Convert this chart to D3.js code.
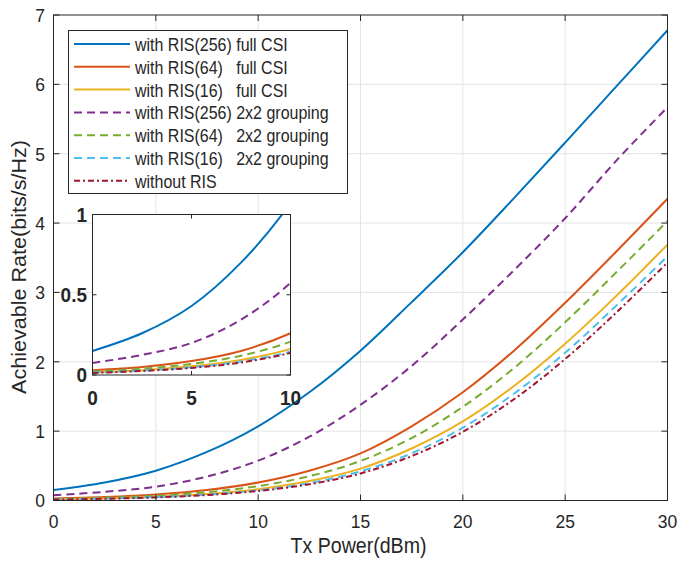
<!DOCTYPE html>
<html>
<head>
<meta charset="utf-8">
<script src="https://cdn.jsdelivr.net/npm/d3@7"></script>
<style>
  body { margin: 0; background: #fff; }
  text { font-family: "Liberation Sans", Arial, Helvetica, sans-serif; fill: #262626; }
</style>
</head>
<body>
<svg id="chart" width="685" height="567"></svg>
<script>
// Tx power samples (dBm)
var txPower = [0, 2.5, 5, 7.5, 10, 12.5, 15, 17.5, 20, 22.5, 25, 27.5, 30];

// achievable rate (bits/s/Hz)
var ris256Full  = [0.15, 0.26, 0.43, 0.70, 1.07, 1.56, 2.16, 2.86, 3.58, 4.36, 5.16, 5.97, 6.78];
var ris64Full   = [0.03, 0.05, 0.087, 0.15, 0.26, 0.43, 0.68, 1.07, 1.56, 2.16, 2.85, 3.59, 4.35];
var ris16Full   = [0.017, 0.030, 0.054, 0.094, 0.163, 0.28, 0.46, 0.75, 1.14, 1.65, 2.26, 2.95, 3.69];
var ris256Group = [0.075, 0.125, 0.20, 0.345, 0.575, 0.92, 1.38, 1.94, 2.61, 3.32, 4.07, 4.90, 5.67];
var ris64Group  = [0.022, 0.039, 0.069, 0.12, 0.208, 0.35, 0.57, 0.90, 1.35, 1.91, 2.57, 3.29, 4.03];
var ris16Group  = [0.015, 0.027, 0.048, 0.084, 0.146, 0.25, 0.42, 0.68, 1.05, 1.54, 2.13, 2.81, 3.52];
var withoutRis  = [0.013, 0.025, 0.044, 0.078, 0.138, 0.234, 0.39, 0.64, 0.99, 1.46, 2.04, 2.71, 3.43];

var xTicks = [0, 5, 10, 15, 20, 25, 30];
var yTicks = [0, 1, 2, 3, 4, 5, 6, 7];
var insetXTicks = [0, 5, 10];
var insetYTicks = [0, 0.5, 1];

var series = [
  {name: "with RIS(256) full CSI",      values: ris256Full,  color: "#0072BD", dash: null},
  {name: "with RIS(64)   full CSI",     values: ris64Full,   color: "#D95319", dash: null},
  {name: "with RIS(16)   full CSI",     values: ris16Full,   color: "#EDB120", dash: null},
  {name: "with RIS(256) 2x2 grouping",  values: ris256Group, color: "#7E2F8E", dash: "8,5"},
  {name: "with RIS(64)   2x2 grouping", values: ris64Group,  color: "#77AC30", dash: "8,5"},
  {name: "with RIS(16)   2x2 grouping", values: ris16Group,  color: "#4DBEEE", dash: "8,5"},
  {name: "without RIS",                 values: withoutRis,  color: "#A2142F", dash: "6,3,2,3"}
];

var svg = d3.select("#chart");
var axisColor = "#262626";
var gridColor = "#e3e3e3";
var stretch = 1.1; // glyphs in the picture are a bit taller than wide

// text helper: place at (x,y) baseline, stretched vertically
function label(g, tx, ty, str, size, anchor, bold) {
  return g.append("text")
    .attr("transform", "translate(" + tx + "," + ty + ") scale(1," + stretch + ")")
    .attr("text-anchor", anchor)
    .style("font-size", size + "px")
    .style("font-weight", bold ? "bold" : null)
    .text(str);
}

// main axes
// ----------
var plot = {left: 53.5, right: 667.5, top: 15, bottom: 500.5};

var x = d3.scaleLinear().domain([0, 30]).range([plot.left, plot.right]);
var y = d3.scaleLinear().domain([0, 7]).range([plot.bottom, plot.top]);

svg.append("clipPath").attr("id", "clipMain")
  .append("rect")
  .attr("x", plot.left).attr("y", plot.top)
  .attr("width", plot.right - plot.left).attr("height", plot.bottom - plot.top);

// grid
var grid = svg.append("g").attr("class", "grid");
grid.selectAll(".gx").data(xTicks.slice(1, -1)).enter().append("line")
  .attr("x1", function(d){ return x(d); }).attr("x2", function(d){ return x(d); })
  .attr("y1", plot.top).attr("y2", plot.bottom)
  .attr("stroke", gridColor).attr("stroke-width", 1);
grid.selectAll(".gy").data(yTicks.slice(1, -1)).enter().append("line")
  .attr("y1", function(d){ return y(d); }).attr("y2", function(d){ return y(d); })
  .attr("x1", plot.left).attr("x2", plot.right)
  .attr("stroke", gridColor).attr("stroke-width", 1);

var line = function(xs, ys) {
  return d3.line()
    .x(function(d, i){ return xs(txPower[i]); })
    .y(function(d){ return ys(d); })
    .curve(d3.curveCatmullRom.alpha(0.5));
};

var mainLine = line(x, y);
svg.append("g").attr("clip-path", "url(#clipMain)")
  .selectAll("path").data(series).enter().append("path")
  .attr("d", function(d){ return mainLine(d.values); })
  .attr("fill", "none")
  .attr("stroke", function(d){ return d.color; })
  .attr("stroke-width", 2)
  .attr("stroke-dasharray", function(d){ return d.dash; });

// axes with inward ticks on all sides
function boxAxes(g, xs, ys, xt, yt, tickLen) {
  var r = xs.range(), t = ys.range();
  g.append("rect")
    .attr("x", r[0]).attr("y", t[1])
    .attr("width", r[1] - r[0]).attr("height", t[0] - t[1])
    .attr("fill", "none").attr("stroke", axisColor).attr("stroke-width", 1);
  xt.forEach(function(v){
    g.append("line").attr("x1", xs(v)).attr("x2", xs(v))
      .attr("y1", t[0]).attr("y2", t[0] - tickLen).attr("stroke", axisColor);
    g.append("line").attr("x1", xs(v)).attr("x2", xs(v))
      .attr("y1", t[1]).attr("y2", t[1] + tickLen).attr("stroke", axisColor);
  });
  yt.forEach(function(v){
    g.append("line").attr("y1", ys(v)).attr("y2", ys(v))
      .attr("x1", r[0]).attr("x2", r[0] + tickLen).attr("stroke", axisColor);
    g.append("line").attr("y1", ys(v)).attr("y2", ys(v))
      .attr("x1", r[1]).attr("x2", r[1] - tickLen).attr("stroke", axisColor);
  });
}

var axes = svg.append("g");
boxAxes(axes, x, y, xTicks, yTicks, 6);

xTicks.forEach(function(d){ label(axes, x(d), 528, d, 17.5, "middle"); });
yTicks.forEach(function(d){ label(axes, 45, y(d) + 6.8, d, 17.5, "end"); });

label(svg, 358.5, 553, "Tx Power(dBm)", 19.6, "middle");
svg.append("text")
  .attr("transform", "translate(25.5,267) rotate(-90) scale(" + stretch + ",1)")
  .attr("text-anchor", "middle").style("font-size", "19.6px")
  .text("Achievable Rate(bits/s/Hz)");

// legend
// ----------
var legend = svg.append("g");
legend.append("rect")
  .attr("x", 68.5).attr("y", 30.5).attr("width", 279).attr("height", 163)
  .attr("fill", "#fff").attr("stroke", axisColor).attr("stroke-width", 1);
var rows = legend.selectAll("g.row").data(series).enter().append("g")
  .attr("transform", function(d, i){ return "translate(0," + (44 + i * 22.8) + ")"; });
rows.append("line")
  .attr("x1", 74).attr("x2", 130).attr("y1", 0).attr("y2", 0)
  .attr("stroke", function(d){ return d.color; })
  .attr("stroke-width", 2)
  .attr("stroke-dasharray", function(d){ return d.dash; });
rows.each(function(d){
  label(d3.select(this), 135, 7, d.name, 16, "start")
    .attr("xml:space", "preserve").style("white-space", "pre");
});

// inset
// ----------
var inset = {left: 92.5, right: 290.5, top: 214.5, bottom: 375};
var xi = d3.scaleLinear().domain([0, 10]).range([inset.left, inset.right]);
var yi = d3.scaleLinear().domain([0, 1]).range([inset.bottom, inset.top]);

svg.append("clipPath").attr("id", "clipInset")
  .append("rect")
  .attr("x", inset.left).attr("y", inset.top)
  .attr("width", inset.right - inset.left).attr("height", inset.bottom - inset.top);

var ig = svg.append("g");
ig.append("rect")
  .attr("x", inset.left).attr("y", inset.top)
  .attr("width", inset.right - inset.left).attr("height", inset.bottom - inset.top)
  .attr("fill", "#fff");

var insetLine = line(xi, yi);
ig.append("g").attr("clip-path", "url(#clipInset)")
  .selectAll("path").data(series).enter().append("path")
  .attr("d", function(d){ return insetLine(d.values.slice(0, 6)); })
  .attr("fill", "none")
  .attr("stroke", function(d){ return d.color; })
  .attr("stroke-width", 2)
  .attr("stroke-dasharray", function(d){ return d.dash; });

boxAxes(ig, xi, yi, insetXTicks, insetYTicks, 4);

insetXTicks.forEach(function(d){ label(ig, xi(d), 405, d, 19, "middle", true); });
insetYTicks.forEach(function(d){ label(ig, 87, yi(d) + 7.2, d, 19, "end", true); });
</script>
</body>
</html>
